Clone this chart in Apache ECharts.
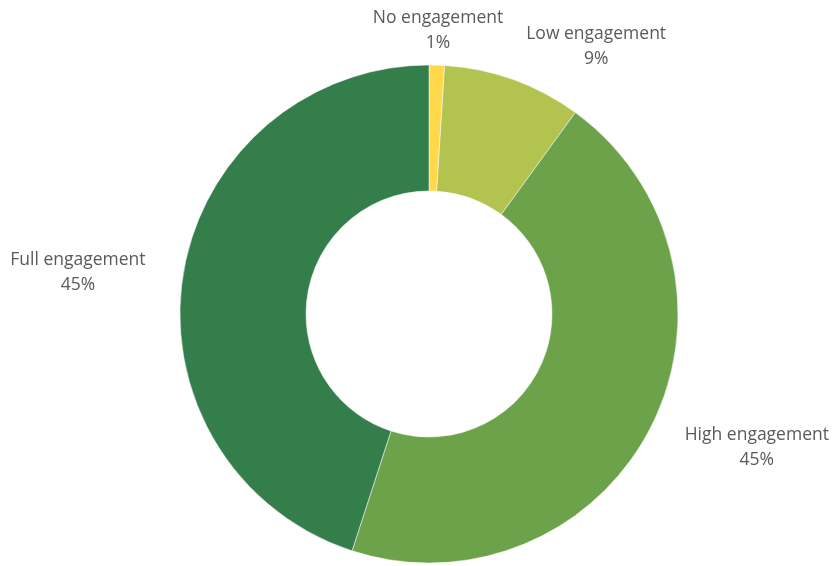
<!DOCTYPE html>
<html>
<head>
<meta charset="utf-8">
<script src="https://cdn.jsdelivr.net/npm/echarts@6/dist/echarts.min.js"></script>
<style>
  html, body { margin: 0; padding: 0; background: #ffffff; }
  #chart { width: 835px; height: 566px; }
</style>
</head>
<body>
<div id="chart"></div>
<script>
// Engagement levels, clockwise from twelve o'clock
const categories = ['No engagement', 'Low engagement', 'High engagement', 'Full engagement'];
const shares = [1, 9, 45, 45];
const sliceColors = ['#FFD84C', '#B2C350', '#6BA24A', '#347E4B'];

const chart = echarts.init(document.getElementById('chart'), null, { renderer: 'canvas' });

const centerX = 429;
const centerY = 314;

chart.setOption({
  animation: false,
  backgroundColor: '#ffffff',
  series: [{
    type: 'pie',
    center: [centerX, centerY],
    radius: [123, 249],
    startAngle: 90,
    clockwise: true,
    avoidLabelOverlap: false,
    itemStyle: { borderColor: '#ffffff', borderWidth: 0.5 },
    label: {
      show: true,
      position: 'outside',
      distanceToLabelLine: 0,
      formatter: p => p.name + '\n' + p.value + '%',
      fontFamily: '"Open Sans", sans-serif',
      fontWeight: 400,
      fontSize: 17.5,
      lineHeight: 25,
      color: '#5a5a5a'
    },
    labelLine: { show: false, length: 38, length2: 0 },
    labelLayout: function (p) {
      const r = p.labelRect;
      // anchor point of the default layout
      const ax = p.align === 'right' ? r.x + r.width : r.x;
      let x;
      if (Math.abs(ax - centerX) < 30) {
        x = ax; // label sitting right above the centre: centre it on its anchor
      } else {
        x = r.x + r.width / 2;
      }
      return { x: x, y: r.y + r.height / 2 + 3, align: 'center', verticalAlign: 'middle' };
    },
    data: categories.map((name, i) => ({
      name: name,
      value: shares[i],
      itemStyle: { color: sliceColors[i] }
    }))
  }]
});
</script>
</body>
</html>
